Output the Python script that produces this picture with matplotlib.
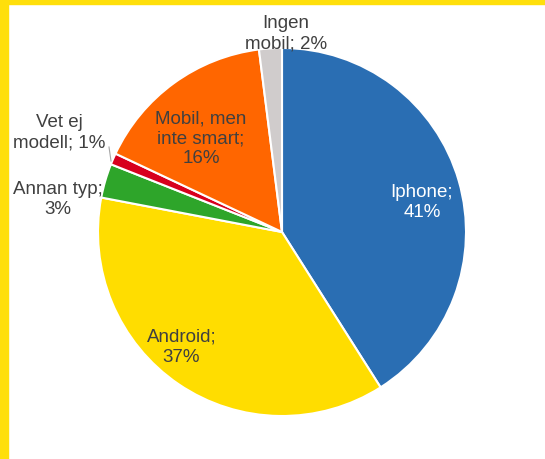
import matplotlib
matplotlib.use("Agg")
import matplotlib.pyplot as plt
from matplotlib.patches import Rectangle

categories = ["Iphone", "Android", "Annan typ", "Vet ej\nmodell", "Mobil, men\ninte smart", "Ingen\nmobil"]
values = [41, 37, 3, 1, 16, 2]
colors = ["#2A6EB3", "#FFDD00", "#2EA52A", "#D7001E", "#FF6600", "#D0CCCC"]
labels = ["Iphone;\n41%", "Android;\n37%", "Annan typ;\n3%", "Vet ej\nmodell; 1%",
          "Mobil, men\ninte smart;\n16%", "Ingen\nmobil; 2%"]

W, H = 545, 459
CX, CY, R = 282, 232, 184

plt.rcParams['font.family'] = ['Liberation Sans', 'DejaVu Sans']
fig = plt.figure(figsize=(W / 100, H / 100), dpi=100)
ax = fig.add_axes([0, 0, 1, 1])

ax.pie(values, colors=colors, startangle=90, counterclock=False, radius=1,
       wedgeprops=dict(edgecolor='white', linewidth=1.5))
ax.set_xlim(-CX / R, (W - CX) / R)
ax.set_ylim(-(H - CY) / R, CY / R)
ax.set_aspect('auto')
ax.axis('off')

def d(px, py):
    return ((px - CX) / R, (CY - py) / R)

# label centre x and first-line baseline y (pixels)
label_pos = [(422, 197), (181.5, 342), (57.5, 193.5), (59.5, 127), (201, 123), (286, 28)]
label_col = ["white", "#404040", "#404040", "#404040", "#404040", "#404040"]
PITCH = 20
for lab, (px, py), c in zip(labels, label_pos, label_col):
    for i, line in enumerate(lab.split("\n")):
        x, y = d(px, py + i * PITCH)
        ax.text(x, y, line, ha='center', va='baseline', fontsize=13.5, color=c)

# leader line for Vet ej
x1, y1 = d(109, 147)
x2, y2 = d(111, 161)
ax.plot([x1, x2], [y1, y2], color='#A6A6A6', lw=0.8)

# yellow frame
fig.patches.append(Rectangle((0, 1 - 3.5 / H), 1, 3.5 / H, transform=fig.transFigure,
                             color='#FFDF0B', zorder=10))
fig.patches.append(Rectangle((0, 0), 8 / W, 1, transform=fig.transFigure,
                             color='#FFDF0B', zorder=10))

fig.savefig("out.png", dpi=100)
